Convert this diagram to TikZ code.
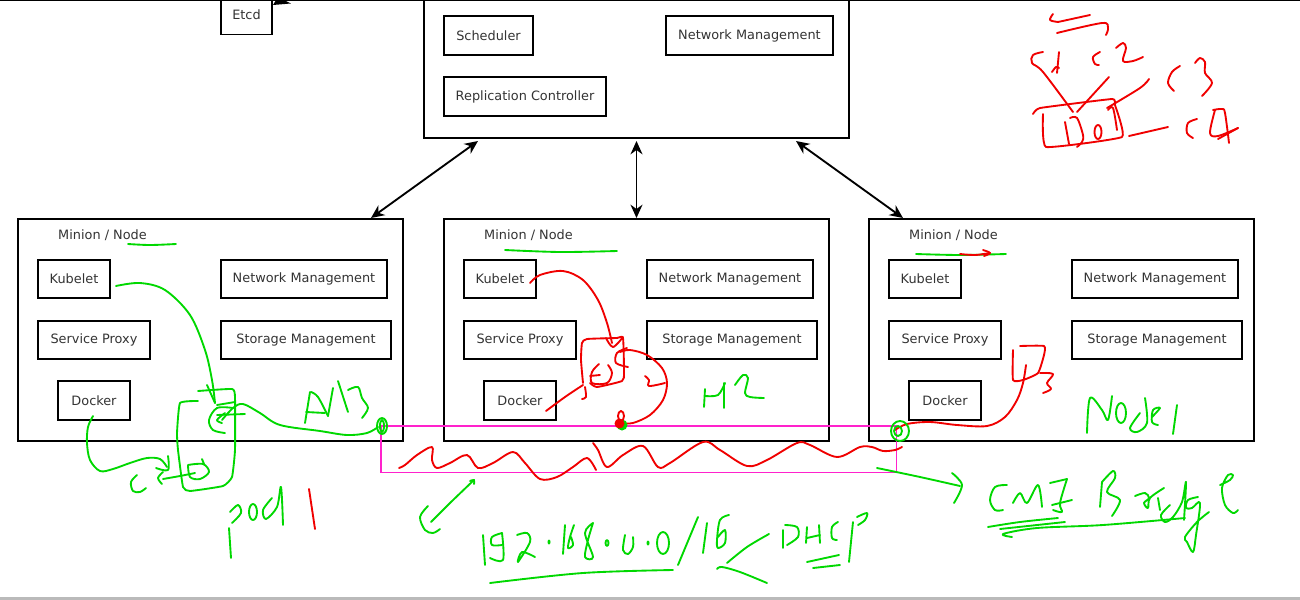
\documentclass[tikz,border=0pt]{standalone}
\usepackage{fontspec}
\setmainfont{DejaVu Sans}
\definecolor{inkg}{HTML}{00D800}
\definecolor{inkr}{HTML}{F00000}
\definecolor{pinkl}{HTML}{FF22CC}
\definecolor{labelc}{HTML}{333333}
\usetikzlibrary{arrows.meta}
\tikzset{
  box/.style={draw=black,line width=1.5pt,fill=white,inner sep=0pt,text=labelc,font=\fontsize{9.65}{11}\selectfont},
  bw/.style={minimum width=#1*0.75pt},
  bh/.style={minimum height=#1*0.75pt},
  title/.style={inner sep=0pt,text=labelc,font=\fontsize{9.65}{11}\selectfont},
  link/.style={draw=black,line width=1.4pt,<->,>={Stealth[length=10pt,width=9pt]}},
  gink/.style={draw=inkg,line width=1.4pt,line cap=round,line join=round},
  rink/.style={draw=inkr,line width=1.4pt,line cap=round,line join=round},
  bridge/.style={draw=pinkl,line width=1.3pt},
}
\newcommand\gs[1]{\draw[gink] plot[smooth,tension=.55] coordinates {#1};}
\newcommand\rs[1]{\draw[rink] plot[smooth,tension=.55] coordinates {#1};}
\begin{document}
\begin{tikzpicture}[x=0.75pt,y=-0.75pt]
\useasboundingbox (0,0) rectangle (1300,600);
\clip (0,0) rectangle (1300,600);
\fill[white] (0,0) rectangle (1300,600);
\fill[black!27] (0,597) rectangle (1300,600);

% master
\node[box,bw=425,bh=150] (master) at (636.5,63) {};
\node[box,bw=89,bh=39] (sched) at (488.5,35.5) {Scheduler};
\node[box,bw=167,bh=39] (mnet) at (749.5,35.5) {Network Management};
\node[box,bw=162,bh=39] (repl) at (525,96.5) {Replication Controller};
\node[box,line width=1.1pt,bw=51,bh=40] (etcd) at (246.5,14.5) {Etcd};
\coordinate (etcdup) at (330,-30);
\coordinate (etcdtip) at (273,5);
\draw[draw=black,line width=1.4pt,-{Stealth[length=12pt,width=12pt]}] (etcdup) -- (etcdtip);
\fill[black] (0,0) rectangle (1300,1.4);

% minions
\foreach \p/\dx in {a/0,b/426,c/851}{
  \node[box,bw=385,bh=222] (\p min) at ({\dx+210.5},330) {};
  \node[title] (\p tit) at ({\dx+102.5},235) {Minion / Node};
  \node[box,bw=72,bh=38] (\p kub) at ({\dx+74},279) {Kubelet};
  \node[box,bw=166,bh=38] (\p net) at ({\dx+304},279) {Network Management};
  \node[box,bw=112,bh=38] (\p svc) at ({\dx+94},340) {Service Proxy};
  \node[box,bw=170,bh=38] (\p sto) at ({\dx+306},340) {Storage Management};
  \node[box,bw=72,bh=39] (\p doc) at ({\dx+94},400.5) {Docker};
}
\draw[link] ([xshift=41.25pt]master.south west) ++(0,2) -- ([xshift=-24.75pt]amin.north east);
\draw[link] (master.south) ++(0,2) -- (bmin.north);
\draw[link] ([xshift=-40.5pt]master.south east) ++(0,2) -- ([xshift=26.25pt]cmin.north west);

% CNI bridge outline
\coordinate (brtl) at (381,426);
\coordinate (brtr) at (896.5,426);
\coordinate (brbr) at (896.5,472.5);
\coordinate (brbl) at (381,472.5);
\draw[bridge] (brtl) -- (brtr) -- (brbr) -- (brbl) -- cycle;

% title underlines
\gs{(128,244)(150,245)(176,244)}
\gs{(505,250)(560,252)(617,251)}
\gs{(916,254)(960,255)(1006,254)}
\rs{(960,254)(975,255)(990,253)}
\rs{(983,250)(990,253)(984,256)}

% --- green ink, first minion
\gs{(93,416)(88,427)(87,443)(90,460)(100,471)(113,469)(130,463)(147,458)(160,459)(167,467)}
\gs{(168,456)(168,470)(156,468)}
\gs{(137,475)(131,482)(133,491)(140,492)(146,488)}
\gs{(163,472)(158,478)(162,484)}
\gs{(163,479)(180,476)(195,473)}
\gs{(188,465)(203,464)(209,472)(200,479)(190,477)(188,465)}
\gs{(202,459)(204,464)}
\draw[gink] plot[smooth,tension=.25] coordinates {(198,391)(232,389)(235,397)(235,450)(232,477)(223,486)(190,491)(183,487)(178,450)(177,433)(180,403)(198,401)};
\gs{(116,286)(140,283)(165,290)(190,315)(205,350)(212,380)(215,403)}
\gs{(207,385)(215,403)}
\gs{(235,402)(217,405)}
\gs{(233,408)(217,408)(209,420)(213,430)(225,433)}
\gs{(225,413)(217,420)(222,423)}
\gs{(217,415)(245,414)}
\gs{(222,420)(233,408)(243,404)(260,413)(280,425)(320,431)(347,435)(367,433)(378,427)}
\draw[gink] (382,426) ellipse[x radius=5,y radius=8];
\draw[gink] (382,426) ellipse[x radius=2,y radius=6];
\gs{(305,423)(310,392)}
\gs{(311,392)(318,397)(328,416)}
\gs{(328,416)(333,388)}
\gs{(306,412)(325,413)}
\gs{(338,381)(348,412)}
\gs{(348,390)(358,387)(362,398)(368,408)(362,418)}
% pod 1
\gs{(230,512)(238,505)(241,513)(232,523)}
\gs{(229,528)(231,558)}
\draw[gink] (253,512) ellipse[x radius=4,y radius=8];
\gs{(272,498)(263,510)(266,519)(277,507)(281,487)(283,525)}
\rs{(309,489)(315,529)}
\gs{(474,480)(450,503)(431,522)}
\gs{(470,481)(474,480)(474,484)}
\gs{(428,506)(420,517)(425,530)(433,533)(440,529)}

% --- wave
\rs{(399,468)(405,465)(417,455)(432,447)(432,460)(437,468)(450,463)(467,455)(478,468)(493,463)(513,452)(525,463)(540,479)(557,477)(573,467)(587,458)(596,470)}
\rs{(593,443)(598,450)(607,467)(623,455)(643,446)(658,467)(670,463)(703,442)(720,450)(747,466)(767,460)(797,443)(810,445)(837,457)(860,447)(872,447)(883,451)(895,450)(902,447)}

% --- red ink, second minion
\rs{(530,283)(540,275)(563,271)(583,280)(598,300)(607,323)(612,343)}
\rs{(606,338)(613,347)(623,337)}
\draw[rink] plot[smooth,tension=.3] coordinates {(583,383)(581,360)(582,343)(587,339)(617,338)(623,338)(624,373)(622,381)(597,387)(590,383)};
\rs{(585,387)(586,397)(582,399)}
\rs{(599,364)(592,372)(592,383)(607,383)(612,373)(608,365)}
\rs{(590,376)(600,375)}
\rs{(546,411)(565,397)(583,385)}
\rs{(627,348)(617,353)(616,363)(628,367)}
\rs{(620,352)(630,350)(647,355)(662,368)(667,383)(663,400)(650,415)(633,423)(622,423)}
\rs{(645,376)(649,380)(649,386)(665,383)}
\fill[inkg] (622,425) circle[radius=5.5];
\fill[inkr] (619.5,423.5) circle[radius=5];
\draw[rink] (621,416) ellipse[x radius=3,y radius=5];
\gs{(705,389)(704,407)}
\gs{(705,396)(718,395)(725,383)}
\gs{(724,383)(724,408)}
\gs{(735,385)(743,375)(748,378)(745,393)(750,397)(764,398)}

% --- third minion
\rs{(895,430)(907,424)(930,422)(957,425)(987,426)(1005,417)(1017,400)(1023,383)(1026,365)}
\draw[rink] plot[smooth,tension=.3] coordinates {(1013,350)(1013,380)(1023,380)(1038,373)(1044,355)(1044,346)(1020,346)};
\rs{(1040,373)(1053,374)(1047,383)(1051,389)(1043,393)};
\draw[gink] (900,431) ellipse[x radius=9,y radius=10];
\draw[gink] (898,431) ellipse[x radius=4,y radius=5];
% Node1
\gs{(1087,433)(1090,398)(1102,410)(1108,420)(1112,396)}
\draw[gink] (1121,413) ellipse[x radius=5,y radius=10];
\gs{(1140,413)(1130,428)(1137,432)(1147,423)(1145,398)}
\gs{(1152,417)(1160,408)(1153,410)(1152,422)(1158,425)}
\gs{(1177,405)(1173,434)}
% CNI Bridge
\gs{(877,468)(920,477)(960,486)}
\gs{(952,473)(962,485)(954,503)}
\gs{(1007,485)(995,487)(990,500)(995,510)(1003,510)}
\gs{(1013,503)(1020,493)(1027,503)(1038,485)(1042,507)}
\gs{(1050,483)(1067,479)}
\gs{(1067,479)(1060,503)(1062,512)(1053,510)}
\gs{(1052,505)(1072,500)}
\gs{(1102,482)(1100,507)}
\gs{(1102,482)(1113,471)(1115,478)(1107,492)(1120,500)(1112,516)}
\gs{(1135,496)(1145,493)(1149,498)(1144,503)(1148,508)(1150,498)(1164,488)}
\gs{(1158,498)(1160,510)}
\gs{(1170,505)(1161,515)(1165,522)(1173,517)(1182,502)(1186,482)(1184,520)}
\gs{(1198,497)(1188,500)(1186,508)(1192,508)(1200,503)(1196,535)(1193,552)(1187,542)(1185,537)(1197,522)(1209,512)}
\gs{(1220,485)(1230,480)(1233,475)(1228,475)(1222,488)(1225,505)(1233,513)(1238,510)}
\gs{(988,527)(1020,522)(1058,518)}
\gs{(1000,529)(1065,522)}
\gs{(1012,537)(1003,534)(1037,528)(1103,525)(1185,518)}
% 192.168.0.0/16
\gs{(483,535)(485,565)}
\gs{(502,533)(492,537)(492,545)(502,545)}
\gs{(502,533)(503,560)(490,558)}
\gs{(517,535)(527,533)(530,542)(518,562)(522,552)(535,557)}
\fill[inkg] (549,542) ellipse[x radius=1.5,y radius=2.5];
\gs{(565,525)(563,554)}
\gs{(574,525)(570,537)(568,548)(573,545)(571,537)}
\gs{(593,523)(585,533)(593,557)(585,557)(588,540)(593,523)}
\draw[gink] (607,543) ellipse[x radius=1.5,y radius=3];
\gs{(625,535)(623,550)(628,554)(633,547)(633,537)}
\fill[inkg] (648,543) ellipse[x radius=1.5,y radius=2.5];
\draw[gink] (663,543) ellipse[x radius=6,y radius=11];
\gs{(698,517)(678,565)}
\gs{(707,523)(703,553)}
\gs{(729,515)(720,520)(717,540)(718,548)(725,543)(725,530)(718,537)}
\gs{(490,583)(583,573)(673,570)}
\gs{(769,534)(747,547)(727,563)}
\gs{(717,569)(722,567)(740,572)(767,583)}
\gs{(783,530)(783,548)}
\gs{(785,525)(797,527)(798,537)(787,545)}
\gs{(807,527)(806,543)}
\gs{(807,538)(820,535)}
\gs{(819,525)(820,543)}
\gs{(838,522)(832,527)(832,538)(837,540)}
\gs{(853,522)(849,562)}
\gs{(857,517)(867,513)(865,520)(858,525)}
\gs{(807,562)(839,555)}
\gs{(813,568)(840,565)}

% --- top right red ink
\rs{(1090,15)(1058,22)}
\rs{(1058,22)(1050,20)(1053,14)}
\rs{(1057,33)(1102,23)(1108,28)(1106,35)}
\rs{(1043,52)(1033,55)(1032,63)(1043,72)(1073,112)}
\rs{(1059,52)(1057,73)}
\rs{(1052,72)(1056,67)(1059,68)}
\rs{(1109,77)(1077,112)}
\rs{(1100,52)(1093,57)(1095,64)(1099,65)}
\rs{(1116,48)(1123,43)(1126,48)(1123,61)(1133,61)(1143,57)}
\rs{(1149,79)(1140,88)(1107,108)}
\rs{(1180,66)(1172,72)(1168,83)(1174,91)}
\rs{(1195,63)(1200,58)(1205,62)(1205,73)(1212,83)(1202,96)}
\draw[rink] plot[smooth,tension=.2] coordinates {(1033,114)(1040,108)(1112,99)(1115,105)(1122,137)(1046,147)(1043,114)};
\rs{(1065,122)(1069,144)}
\rs{(1070,118)(1077,118)(1083,135)(1082,142)(1077,147)}
\draw[rink] (1098,132) ellipse[x radius=3.5,y radius=7];
\rs{(1108,110)(1113,108)(1117,130)}
\rs{(1129,136)(1168,127)}
\rs{(1197,119)(1188,123)(1187,133)(1193,138)}
\rs{(1215,110)(1210,133)(1218,136)(1238,128)}
\rs{(1213,110)(1222,109)(1225,113)(1229,143)}
\rs{(1218,139)(1238,128)}
\end{tikzpicture}
\end{document}
